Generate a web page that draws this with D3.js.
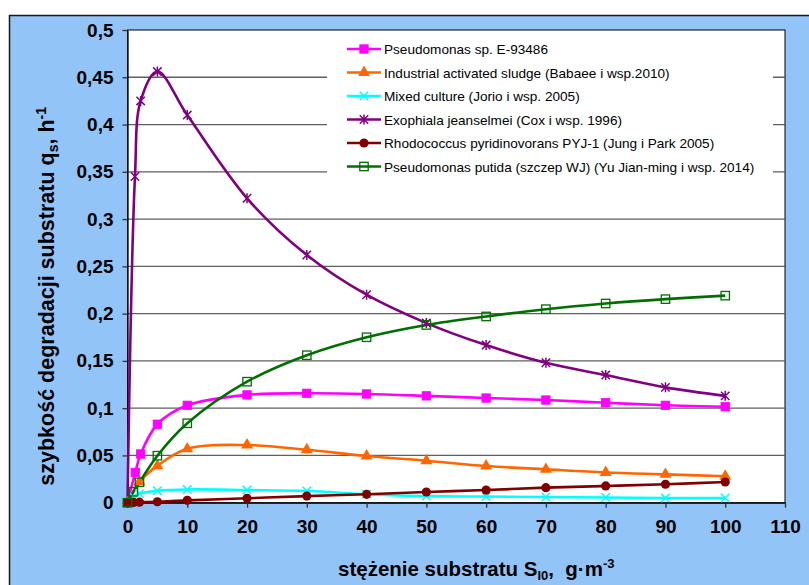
<!DOCTYPE html>
<html>
<head>
<meta charset="utf-8">
<script src="https://cdn.jsdelivr.net/npm/d3@7/dist/d3.min.js"></script>
<style>
  html, body { margin: 0; padding: 0; background: #fff; }
  svg { display: block; }
  text { font-family: "Liberation Sans", Arial, sans-serif; }
</style>
</head>
<body>
<svg id="chart" width="809" height="585"></svg>
<script>
// Substrate concentration S (g·m-3) for each data series
const xPseudomonas = [0, 1.3, 2.2, 5, 10, 20, 30, 40, 50, 60, 70, 80, 90, 100];
const xSludge      = [0, 2, 5, 10, 20, 30, 40, 50, 60, 70, 80, 90, 100];
const xMixed       = [0, 1, 2, 5, 10, 20, 30, 40, 50, 60, 70, 80, 90, 100];
const xExophiala   = [0, 1.25, 2.2, 5, 10, 20, 30, 40, 50, 60, 70, 80, 90, 100];
const xRhodococcus = [0, 1, 2, 5, 10, 20, 30, 40, 50, 60, 70, 80, 90, 100];
const xPutida      = [0, 1, 2, 5, 10, 20, 30, 40, 50, 60, 70, 80, 90, 100];

// Specific substrate degradation rate q_s (h-1)
const qPseudomonas = [0, 0.032, 0.0515, 0.083, 0.103, 0.114, 0.1157, 0.115, 0.113, 0.1107, 0.1086, 0.1057, 0.103, 0.1015];
const qSludge      = [0, 0.022, 0.039, 0.057, 0.061, 0.056, 0.0494, 0.0444, 0.0388, 0.0353, 0.032, 0.030, 0.028];
const qMixed       = [0, 0.006, 0.0095, 0.0127, 0.014, 0.0134, 0.0124, 0.009, 0.007, 0.0065, 0.006, 0.0055, 0.005, 0.005];
const qExophiala   = [0, 0.345, 0.425, 0.456, 0.41, 0.322, 0.262, 0.220, 0.19, 0.1667, 0.148, 0.135, 0.122, 0.113];
const qRhodococcus = [0, 0.0003, 0.0006, 0.001, 0.0025, 0.0047, 0.007, 0.0089, 0.0113, 0.0134, 0.0159, 0.0177, 0.0195, 0.0219];
const qPutida      = [0, 0.0116, 0.0216, 0.0497, 0.084, 0.128, 0.156, 0.175, 0.188, 0.197, 0.2047, 0.2107, 0.2153, 0.219];

const seriesNames = [
  "Pseudomonas sp. E-93486",
  "Industrial activated sludge (Babaee i wsp.2010)",
  "Mixed culture (Jorio i wsp. 2005)",
  "Exophiala jeanselmei (Cox i wsp. 1996)",
  "Rhodococcus pyridinovorans PYJ-1 (Jung i Park 2005)",
  "Pseudomonas putida (szczep WJ) (Yu Jian-ming i wsp. 2014)"
];

const xTickValues = [0, 10, 20, 30, 40, 50, 60, 70, 80, 90, 100, 110];
const yTickValues = [0, 0.05, 0.1, 0.15, 0.2, 0.25, 0.3, 0.35, 0.4, 0.45, 0.5];
const yTickLabels = ["0", "0,05", "0,1", "0,15", "0,2", "0,25", "0,3", "0,35", "0,4", "0,45", "0,5"];

const series = [
  { name: seriesNames[0], xs: xPseudomonas, ys: qPseudomonas, color: "#FF00FF", marker: "square" },
  { name: seriesNames[1], xs: xSludge,      ys: qSludge,      color: "#FF6600", marker: "triangle" },
  { name: seriesNames[2], xs: xMixed,       ys: qMixed,       color: "#00FFFF", marker: "cross" },
  { name: seriesNames[3], xs: xExophiala,   ys: qExophiala,   color: "#800080", marker: "star" },
  { name: seriesNames[4], xs: xRhodococcus, ys: qRhodococcus, color: "#800000", marker: "circle" },
  { name: seriesNames[5], xs: xPutida,      ys: qPutida,      color: "#006E00", marker: "hollow" }
];

const svg = d3.select("#chart");
const W = 809, H = 585;

const plot = { left: 127.5, right: 785, top: 30, bottom: 502.7 };
const x = d3.scaleLinear().domain([0, 110]).range([plot.left, plot.right]);
const y = d3.scaleLinear().domain([0, 0.5]).range([plot.bottom, plot.top]);

// Chart area background with its frame
svg.append("rect").attr("x", 9).attr("y", 15).attr("width", W).attr("height", H)
  .attr("fill", "#92C4F8");
svg.append("path").attr("d", `M9.5,${H} V15.5 H${W}`)
  .attr("fill", "none").attr("stroke", "#1a1a1a").attr("stroke-width", 1.5);

// Plot area
svg.append("rect")
  .attr("x", plot.left).attr("y", plot.top)
  .attr("width", plot.right - plot.left).attr("height", plot.bottom - plot.top)
  .attr("fill", "#fff").attr("stroke", "#000").attr("stroke-width", 1);

// Horizontal gridlines
svg.append("g").selectAll("line")
  .data(yTickValues.filter(v => v > 0 && v < 0.5))
  .join("line")
  .attr("x1", plot.left).attr("x2", plot.right)
  .attr("y1", d => y(d)).attr("y2", d => y(d))
  .attr("stroke", "#5f5f5f").attr("stroke-width", 1.3);

// Axes
const xAxis = d3.axisBottom(x).tickValues(xTickValues).tickSize(5).tickSizeOuter(0)
  .tickFormat(d3.format("d"));
const yAxis = d3.axisLeft(y).tickValues(yTickValues).tickSize(5).tickSizeOuter(0)
  .tickFormat((d, i) => yTickLabels[i]);

const gx = svg.append("g").attr("transform", `translate(0,${plot.bottom})`).call(xAxis);
const gy = svg.append("g").attr("transform", `translate(${plot.left},0)`).call(yAxis);
[gx, gy].forEach(g => {
  g.select(".domain").attr("stroke", "#000").attr("stroke-width", 1.3);
  g.selectAll(".tick line").attr("stroke", "#333").attr("stroke-width", 1.3);
  g.selectAll(".tick text").attr("fill", "#000")
    .style("font-family", "'Liberation Sans', Arial, sans-serif")
    .style("font-size", "19px").style("font-weight", "bold");
});
gx.selectAll(".tick text").attr("dy", "1.15em");
gy.selectAll(".tick text").attr("x", -14);

// Series lines (smoothed) and markers
const line = d3.line().curve(d3.curveCatmullRom.alpha(0.5))
  .x(d => x(d[0])).y(d => y(d[1]));

const linesG = svg.append("g");
const marksG = svg.append("g");

function drawMarker(g, type, color, cx, cy) {
  const s = 4.2;
  if (type === "square") {
    g.append("rect").attr("x", cx - s).attr("y", cy - s).attr("width", 2 * s).attr("height", 2 * s)
      .attr("fill", color).attr("stroke", color).attr("stroke-width", 0.8);
  } else if (type === "hollow") {
    g.append("rect").attr("x", cx - s).attr("y", cy - s).attr("width", 2 * s).attr("height", 2 * s)
      .attr("fill", "none").attr("stroke", color).attr("stroke-width", 1.3);
  } else if (type === "triangle") {
    g.append("path").attr("d", d3.symbol(d3.symbolTriangle, 62)())
      .attr("transform", `translate(${cx},${cy})`).attr("fill", color);
  } else if (type === "circle") {
    g.append("circle").attr("cx", cx).attr("cy", cy).attr("r", 4.6).attr("fill", color);
  } else if (type === "cross" || type === "star") {
    const k = 4.2;
    let d = `M${cx - k},${cy - k}L${cx + k},${cy + k}M${cx - k},${cy + k}L${cx + k},${cy - k}`;
    if (type === "star") d += `M${cx},${cy - k - 0.8}L${cx},${cy + k + 0.8}`;
    g.append("path").attr("d", d).attr("stroke", color).attr("stroke-width", 1.5).attr("fill", "none");
  }
}

series.forEach(s => {
  const pts = s.xs.map((v, i) => [v, s.ys[i]]);
  linesG.append("path").datum(pts).attr("d", line)
    .attr("fill", "none").attr("stroke", s.color).attr("stroke-width", 2.6)
    .attr("stroke-linejoin", "round");
});
series.forEach(s => {
  s.xs.forEach((v, i) => drawMarker(marksG, s.marker, s.color, x(v), y(s.ys[i])));
});

// Legend
const legend = svg.append("g");
legend.append("rect").attr("x", 327).attr("y", 33).attr("width", 446).attr("height", 153)
  .attr("fill", "#fff");
series.forEach((s, i) => {
  const cy = 49 + i * 23.5;
  legend.append("line").attr("x1", 347).attr("x2", 381).attr("y1", cy).attr("y2", cy)
    .attr("stroke", s.color).attr("stroke-width", 2.6);
  drawMarker(legend, s.marker, s.color, 364, cy);
  legend.append("text").attr("x", 384).attr("y", cy + 5)
    .attr("font-size", 13.6).attr("fill", "#000").text(s.name);
});

// Axis titles
const xt = svg.append("text").attr("x", 338).attr("y", 576)
  .attr("font-size", 20.5).attr("font-weight", "bold").attr("fill", "#000");
xt.append("tspan").text("stężenie substratu S");
xt.append("tspan").attr("font-size", 13).attr("dy", 4).text("l0");
xt.append("tspan").attr("dy", -4).text(",\u00A0\u00A0g·m");
xt.append("tspan").attr("font-size", 13).attr("dy", -8).text("-3");

const yt = svg.append("text")
  .attr("transform", `translate(54,${(plot.top + plot.bottom) / 2 + 30}) rotate(-90)`)
  .attr("text-anchor", "middle")
  .attr("font-size", 21.5).attr("font-weight", "bold").attr("fill", "#000");
yt.append("tspan").text("szybkość degradacji substratu q");
yt.append("tspan").attr("font-size", 14).attr("dy", 4).text("s");
yt.append("tspan").attr("dy", -4).text(", h");
yt.append("tspan").attr("font-size", 14).attr("dy", -8).text("-1");
</script>
</body>
</html>
